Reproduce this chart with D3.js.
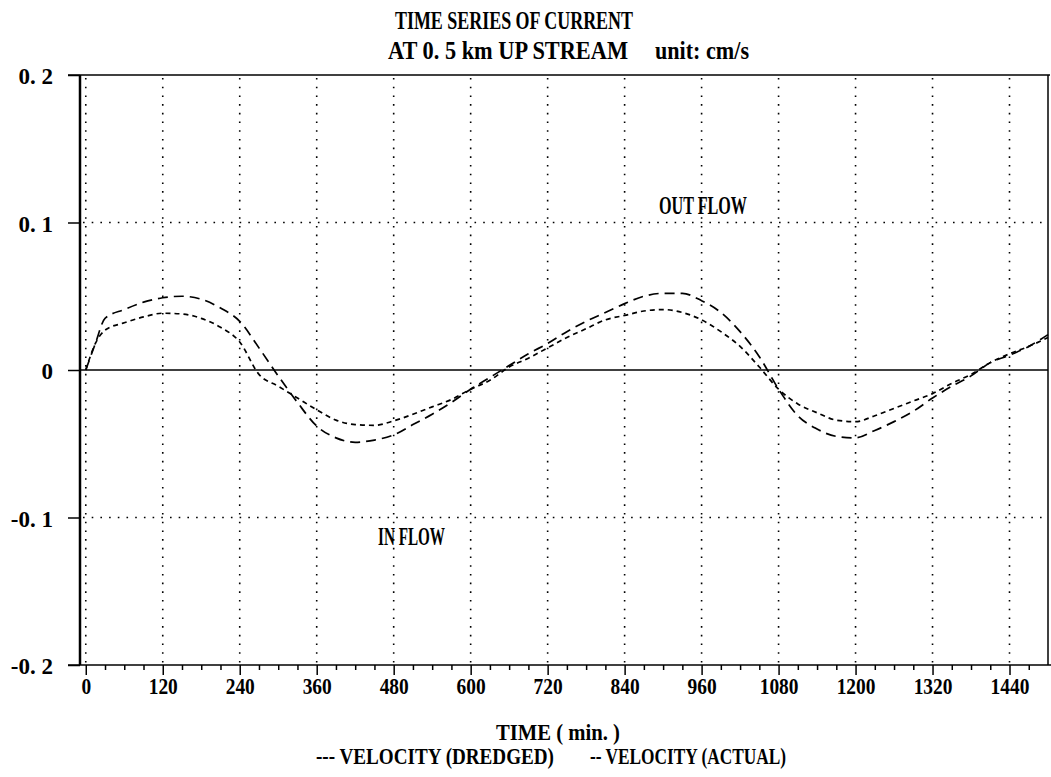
<!DOCTYPE html>
<html>
<head>
<meta charset="utf-8">
<script src="https://cdn.jsdelivr.net/npm/d3@7"></script>
<style>
  body { margin: 0; background: #fff; }
  text { font-family: "Liberation Serif", serif; font-weight: bold; fill: #000; white-space: pre; }
</style>
</head>
<body>
<script>
// data (minutes, velocity)
var times = [0, 15, 30, 60, 90, 120, 150, 180, 210, 240, 270, 300, 330, 360, 390, 420, 450,
  480, 510, 540, 570, 600, 630, 660, 690, 720, 750, 780, 810, 840, 870, 900, 930, 960, 990,
  1020, 1050, 1080, 1110, 1140, 1170, 1200, 1230, 1260, 1290, 1320, 1350, 1380, 1410, 1440,
  1470, 1500];

var dredged = [0, 0.018, 0.027, 0.032, 0.036, 0.0385, 0.038, 0.035, 0.029, 0.019, -0.003,
  -0.011, -0.019, -0.027, -0.034, -0.037, -0.0375, -0.0345, -0.030, -0.025, -0.020, -0.013,
  -0.007, 0.002, 0.008, 0.015, 0.022, 0.028, 0.034, 0.037, 0.040, 0.041, 0.039, 0.034, 0.026,
  0.016, 0.002, -0.013, -0.023, -0.029, -0.034, -0.035, -0.031, -0.026, -0.021, -0.016, -0.009,
  -0.003, 0.005, 0.011, 0.016, 0.022];

var actual = [0, 0.018, 0.035, 0.041, 0.046, 0.049, 0.050, 0.048, 0.042, 0.033, 0.015,
  -0.004, -0.022, -0.038, -0.046, -0.049, -0.0475, -0.044, -0.037, -0.030, -0.022, -0.013,
  -0.005, 0.003, 0.011, 0.018, 0.026, 0.033, 0.039, 0.045, 0.050, 0.052, 0.052, 0.047, 0.039,
  0.026, 0.009, -0.013, -0.031, -0.040, -0.045, -0.046, -0.041, -0.035, -0.028, -0.019, -0.011,
  -0.004, 0.005, 0.010, 0.016, 0.024];

var x_ticks = [0, 120, 240, 360, 480, 600, 720, 840, 960, 1080, 1200, 1320, 1440];
var y_ticks = [-0.2, -0.1, 0, 0.1, 0.2];
var y_tick_labels = ["-0. 2", "-0. 1", "0", "0. 1", "0. 2"];
var y_grid = [-0.1, 0.1];

var title1 = "TIME SERIES OF CURRENT";
var title2a = "AT 0. 5 km UP STREAM";
var title2b = "unit: cm/s";
var x_title = "TIME ( min. )";
var legend_names = ["--- VELOCITY (DREDGED)", "-- VELOCITY (ACTUAL)"];

//layout
var width = 1051,
    height = 777;
var p_left = 80, p_right = 1048, p_top = 75, p_bottom = 665;

var x = d3.scaleLinear().domain([-9, 1500]).range([p_left, p_right]);
var y = d3.scaleLinear().domain([-0.2, 0.2]).range([p_bottom, p_top]);

var svg = d3.select("body").append("svg")
    .attr("width", width)
    .attr("height", height);

// dotted grid
svg.append("g").selectAll("line")
    .data(x_ticks)
  .enter().append("line")
    .attr("x1", function(d){ return x(d); })
    .attr("x2", function(d){ return x(d); })
    .attr("y1", p_top + 3)
    .attr("y2", p_bottom)
    .attr("stroke", "#000")
    .attr("stroke-width", 1.6)
    .attr("stroke-dasharray", "1.6,7.1");

svg.append("g").selectAll("line")
    .data(y_grid)
  .enter().append("line")
    .attr("x1", p_left + 3)
    .attr("x2", p_right)
    .attr("y1", function(d){ return y(d); })
    .attr("y2", function(d){ return y(d); })
    .attr("stroke", "#000")
    .attr("stroke-width", 1.6)
    .attr("stroke-dasharray", "1.6,7.1");

// zero line
svg.append("line")
    .attr("x1", p_left).attr("x2", p_right)
    .attr("y1", y(0)).attr("y2", y(0))
    .attr("stroke", "#000").attr("stroke-width", 1.3);

// frame
svg.append("line").attr("x1", p_left - 12).attr("x2", p_right + 2)
    .attr("y1", p_top).attr("y2", p_top)
    .attr("stroke", "#000").attr("stroke-width", 1.5);
svg.append("line").attr("x1", p_right).attr("x2", p_right)
    .attr("y1", p_top).attr("y2", p_bottom)
    .attr("stroke", "#000").attr("stroke-width", 1.5);
svg.append("line").attr("x1", p_left - 12).attr("x2", p_right + 3)
    .attr("y1", p_bottom).attr("y2", p_bottom)
    .attr("stroke", "#000").attr("stroke-width", 1.5);
svg.append("line").attr("x1", p_left).attr("x2", p_left)
    .attr("y1", p_top).attr("y2", p_bottom)
    .attr("stroke", "#000").attr("stroke-width", 2.5);

// axes
var x_axis = svg.append("g")
    .attr("transform", "translate(0," + p_bottom + ")")
    .call(d3.axisBottom(x).tickValues(x_ticks).tickSize(10).tickSizeOuter(0).tickPadding(3)
      .tickFormat(d3.format("d")));

var minor = d3.range(30, 1500, 30).filter(function(d){ return d % 120 !== 0; });
var x_minor = svg.append("g")
    .attr("transform", "translate(0," + p_bottom + ")")
    .call(d3.axisBottom(x).tickValues(minor).tickSize(5).tickSizeOuter(0).tickFormat(""));

var y_axis = svg.append("g")
    .attr("transform", "translate(" + p_left + ",0)")
    .call(d3.axisLeft(y).tickValues(y_ticks).tickSize(12).tickSizeOuter(0).tickPadding(15)
      .tickFormat(function(d, i){ return y_tick_labels[i]; }));

[x_axis, x_minor, y_axis].forEach(function(g){
    g.attr("font-family", null).attr("font-size", null);
    g.select(".domain").remove();
    g.selectAll(".tick line").attr("stroke", "#000").attr("stroke-width", 1.5);
});
x_axis.selectAll("text")
    .style("font-size", "23px").attr("fill", "#000")
    .attr("textLength", function(d){ return String(d).length * 9.7; })
    .attr("lengthAdjust", "spacingAndGlyphs");
y_axis.selectAll("text")
    .style("font-size", "23px").attr("fill", "#000")
    .attr("dy", "0.38em");

// curves
var line = d3.line()
    .x(function(d, i){ return x(times[i]); })
    .y(function(d){ return y(d); })
    .curve(d3.curveMonotoneX);

svg.append("path")
    .datum(dredged)
    .attr("d", line)
    .attr("fill", "none")
    .attr("stroke", "#000")
    .attr("stroke-width", 1.7)
    .attr("stroke-dasharray", "5,4");

svg.append("path")
    .datum(actual)
    .attr("d", line)
    .attr("fill", "none")
    .attr("stroke", "#000")
    .attr("stroke-width", 1.7)
    .attr("stroke-dasharray", "10,6");

// texts
function label(str, x0, y0, len, size){
    svg.append("text")
        .attr("x", x0)
        .attr("y", y0)
        .attr("textLength", len)
        .attr("lengthAdjust", "spacingAndGlyphs")
        .style("font-size", size + "px")
        .text(str);
}

label(title1, 395, 29, 238, 25);
label(title2a, 388, 59, 240, 25);
label(title2b, 655, 59, 94, 25);
label("OUT FLOW", 659, 214, 88, 25);
label("IN FLOW", 378, 545, 67, 25);
label(x_title, 496, 740, 124, 24);
label(legend_names[0], 316, 764, 238, 24);
label(legend_names[1], 590, 764, 196, 24);
</script>
</body>
</html>
